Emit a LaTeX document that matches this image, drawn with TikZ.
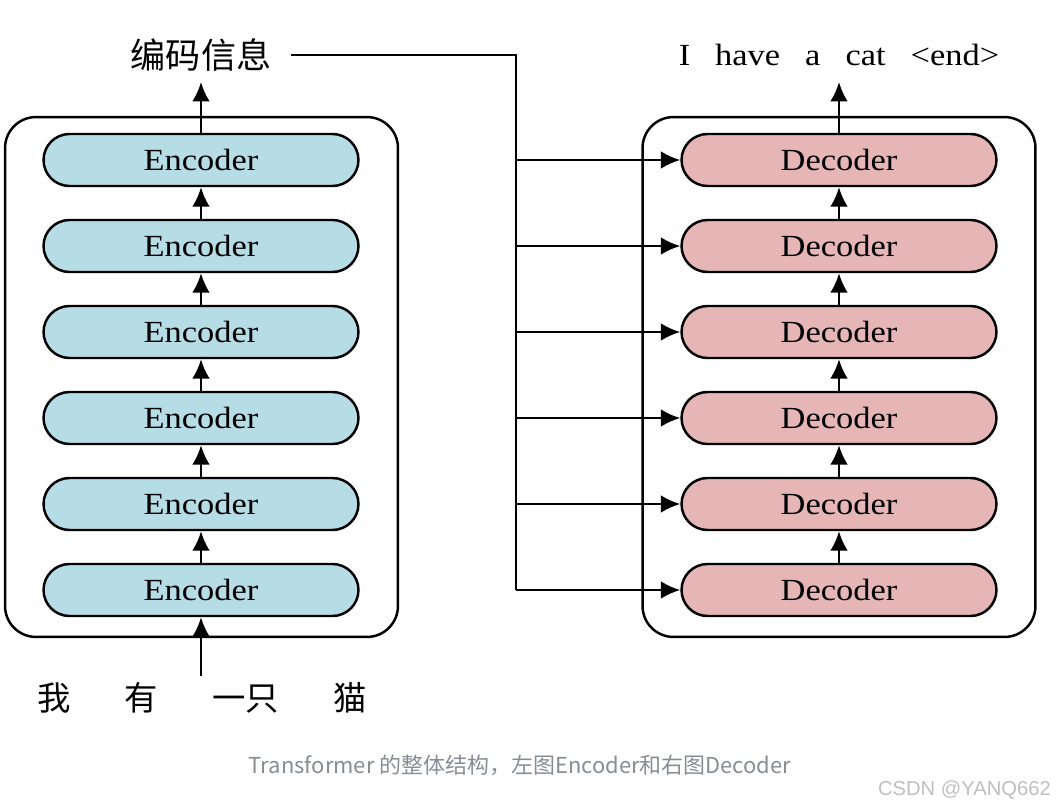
\documentclass[tikz,border=0pt]{standalone}
\usepackage{fontspec}
\setmainfont{Liberation Serif}[FakeStretch=1.12]
\newfontfamily\cjk{Noto Sans CJK SC}
\newfontfamily\wmfont{Liberation Sans}
\usetikzlibrary{arrows.meta,positioning}
\definecolor{encfill}{RGB}{182,220,230}
\definecolor{decfill}{RGB}{230,182,182}
\definecolor{capgray}{RGB}{135,140,148}
\tikzset{
   stack/.style={ rectangle, draw=black, line width=1.4pt, minimum width=7.86cm, minimum height=10.4cm, rounded corners=0.62cm},
   enc block/.style={ rectangle, draw=black, line width=1.4pt, fill=encfill, minimum width=6.3cm, minimum height=1.04cm, rounded corners=0.52cm, inner sep=0pt, font=\fontsize{17.5}{20}\selectfont},
   dec block/.style={ enc block, fill=decfill},
   cjk label/.style={ inner sep=2pt, font=\cjk\fontsize{19}{22}\selectfont},
   >={Latex[length=11pt,width=10pt]}
}

\begin{document}
\begin{tikzpicture}[x=0.02cm,y=-0.02cm,line width=1.4pt]
  \useasboundingbox (0,0) rectangle (1062,808);

  \node[stack] at (201.5,377) (encoders) {};
  \node[stack] at (839,377)   (decoders) {};

  \foreach \i in {1,...,6} {
    \node[enc block] at (201,590-86*\i+86) (enc\i) {Encoder};
    \node[dec block] at (839,590-86*\i+86) (dec\i) {Decoder};
  }
  \foreach \i/\j in {1/2,2/3,3/4,4/5,5/6} {
    \draw[->] (enc\i.north) -- (enc\j.south);
    \draw[->] (dec\i.north) -- (dec\j.south);
  }

  % inputs and outputs
  \node[cjk label] at (202,698) (source) {我\hspace{1.08cm}有\hspace{1.08cm}一只\hspace{1.08cm}猫};
  \coordinate (source top) at (201,676);
  \draw[->] (source top) -- (enc1.south);

  \node[cjk label, font=\cjk\fontsize{20}{22}\selectfont] at (201,55) (memory) {编码信息};
  \coordinate (enc out) at (201,82);
  \draw[->] (enc6.north) -- (enc out);

  \node[font=\fontsize{17.5}{20}\selectfont] at (839,55) (target) {I\hspace{0.5cm}have\hspace{0.5cm}a\hspace{0.5cm}cat\hspace{0.5cm}<end>};
  \coordinate (dec out) at (839,82);
  \draw[->] (dec6.north) -- (dec out);

  % memory bus into every decoder
  \coordinate (bus) at (516,590);
  \draw ([xshift=0.3cm]memory.east) -| (bus);
  \foreach \i in {1,...,6}
    \draw[->] (dec\i.west -| bus) -- (dec\i.west);

  \node[font=\cjk\fontsize{12.5}{14}\selectfont, text=capgray] at (520,765) (caption) {Transformer 的整体结构，左图Encoder和右图Decoder};
  \node[font=\wmfont\fontsize{11.5}{13}\selectfont, text=black!25, anchor=east] at (1058,790) (mark) {CSDN @YANQ662};
\end{tikzpicture}
\end{document}
